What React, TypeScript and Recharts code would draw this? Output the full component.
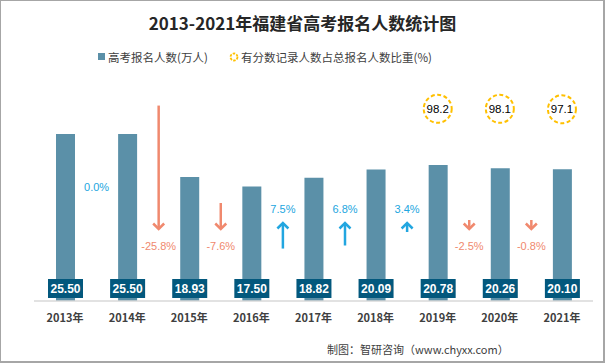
import React from 'react';
import { ComposedChart, Bar, Line, XAxis, YAxis, LabelList } from 'recharts';

// ---- data ----
const years = ['2013年', '2014年', '2015年', '2016年', '2017年', '2018年', '2019年', '2020年', '2021年'];
const applicants = [25.5, 25.5, 18.93, 17.5, 18.82, 20.09, 20.78, 20.26, 20.1];
const changePct: (number | null)[] = [null, 0.0, -25.8, -7.6, 7.5, 6.8, 3.4, -2.5, -0.8];
const scoreShare: (number | null)[] = [null, null, null, null, null, null, 98.2, 98.1, 97.1];

const seriesNames = ['高考报名人数(万人)', '有分数记录人数占总报名人数比重(%)'];
const titleText = '2013-2021年福建省高考报名人数统计图';
const footerText = '制图：智研咨询（www.chyxx.com）';

const data = years.map((y, i) => ({
  year: y,
  value: applicants[i],
  change: changePct[i],
  share: scoreShare[i],
}));

// ---- layout / style ----
const W = 605;
const H = 363;
const MARGIN = { top: 39, right: 12, left: 34, bottom: 32 };
const PLOT_W = W - MARGIN.left - MARGIN.right;
const BAND = PLOT_W / years.length;

const BAR = '#5B90A8';
const BOX = '#03587D';
const UP = '#22A6E0';
const DOWN = '#F0896E';
const YELLOW = '#FFC000';
const TEXT = '#404040';
const FONT = '"Noto Sans CJK SC", "Noto Sans", sans-serif';
const NUMFONT = '"Liberation Sans", "Noto Sans CJK SC", sans-serif';

const ValueBox = (p: any) => {
  const { x, y, width, height, value } = p;
  const cx = Number(x) + Number(width) / 2;
  const bottom = Number(y) + Number(height);
  return (
    <g>
      <rect x={cx - 17.5} y={bottom - 22} width={35} height={19} fill={BOX} />
      <text
        x={cx}
        y={bottom - 12.5}
        textAnchor="middle"
        dominantBaseline="central"
        fill="#fff"
        fontWeight="bold"
        fontSize={12}
        fontFamily={NUMFONT}
      >
        {Number(value).toFixed(2)}
      </text>
    </g>
  );
};

const arrowLen = (p: number) => Math.max(10, 2.14 * Math.pow(Math.abs(p), 1.25));

const ChangeMark = (p: any) => {
  const { x, y, width, height, index } = p;
  const c = changePct[index];
  if (c === null || c === undefined) return null;
  const cx = Number(x) + Number(width) / 2 - BAND / 2;
  const bottom = Number(y) + Number(height);
  const label = `${c.toFixed(1)}%`;
  if (c === 0) {
    return (
      <text x={cx} y={bottom - 114} textAnchor="middle" dominantBaseline="central" fill={UP} fontSize={11} fontFamily={NUMFONT}>
        {label}
      </text>
    );
  }
  const L = arrowLen(c);
  if (c > 0) {
    const tip = bottom - 79;
    return (
      <g>
        <text x={cx} y={bottom - 92} textAnchor="middle" dominantBaseline="central" fill={UP} fontSize={11} fontFamily={NUMFONT}>
          {label}
        </text>
        <line x1={cx} y1={tip + 1} x2={cx} y2={tip + L} stroke={UP} strokeWidth={2.5} />
        <path d={`M${cx - 5.5},${tip + 6.5} L${cx},${tip + 1} L${cx + 5.5},${tip + 6.5}`} fill="none" stroke={UP} strokeWidth={2.5} />
      </g>
    );
  }
  const end = bottom - 71;
  return (
    <g>
      <line x1={cx} y1={end - L} x2={cx} y2={end - 1} stroke={DOWN} strokeWidth={2.5} />
      <path d={`M${cx - 5.5},${end - 6.5} L${cx},${end - 1} L${cx + 5.5},${end - 6.5}`} fill="none" stroke={DOWN} strokeWidth={2.5} />
      <text x={cx} y={bottom - 55} textAnchor="middle" dominantBaseline="central" fill={DOWN} fontSize={11} fontFamily={NUMFONT}>
        {label}
      </text>
    </g>
  );
};

const ShareDot = (p: any) => {
  const { cx, cy, value, index } = p;
  if (value === null || value === undefined || cy === null || cy === undefined || isNaN(cy)) {
    return <g key={`sd-${index}`} />;
  }
  return (
    <g key={`sd-${index}`}>
      <circle cx={cx} cy={cy} r={14} fill="#fff" stroke={YELLOW} strokeWidth={2} strokeDasharray="4 2.5" />
      <text x={cx} y={cy} textAnchor="middle" dominantBaseline="central" fill="#000" fontSize={11.5} fontFamily={NUMFONT}>
        {Number(value).toFixed(1)}
      </text>
    </g>
  );
};

export default function App() {
  return (
    <div style={{ position: 'relative', width: W, height: H, background: '#fff', fontFamily: FONT, overflow: 'hidden' }}>
      <style>{'body{margin:0;}'}</style>
      <div
        style={{
          position: 'absolute',
          top: 10,
          left: 0,
          width: W,
          textAlign: 'center',
          fontSize: 17,
          lineHeight: '26px',
          fontWeight: 'bold',
          color: '#262626',
          fontFamily: FONT,
        }}
      >
        {titleText}
      </div>
      <div
        style={{
          position: 'absolute',
          top: 49,
          left: 0,
          width: W,
          height: 16,
          fontSize: 11.5,
          lineHeight: '16px',
          color: TEXT,
        }}
      >
        <div style={{ position: 'absolute', left: 98, top: 4, width: 7, height: 7, background: BAR }} />
        <div style={{ position: 'absolute', left: 108, top: 0, whiteSpace: 'nowrap' }}>{seriesNames[0]}</div>
        <svg style={{ position: 'absolute', left: 229, top: 3 }} width={10} height={10}>
          <circle cx={5} cy={5} r={3.5} fill="none" stroke={YELLOW} strokeWidth={1.8} strokeDasharray="2.5 1.2" />
        </svg>
        <div style={{ position: 'absolute', left: 241, top: 0, whiteSpace: 'nowrap' }}>{seriesNames[1]}</div>
      </div>
      <div style={{ position: 'absolute', top: 0, left: 0 }}>
        <ComposedChart width={W} height={H} data={data} margin={MARGIN}>
          <XAxis
            dataKey="year"
            height={30}
            axisLine={{ stroke: '#D9D9D9', strokeWidth: 1.5 }}
            tickLine={false}
            tickSize={6}
            tickMargin={7}
            interval={0}
            tick={{ fill: TEXT, fontSize: 11, fontWeight: 'bold', fontFamily: FONT }}
          />
          <YAxis yAxisId="l" hide domain={[0, 40]} />
          <YAxis yAxisId="r" hide orientation="right" domain={[-342, 258]} />
          <Bar yAxisId="l" dataKey="value" fill={BAR} barSize={19} isAnimationActive={false}>
            <LabelList dataKey="value" content={ValueBox} />
            <LabelList dataKey="change" content={ChangeMark} />
          </Bar>
          <Line
            yAxisId="r"
            dataKey="share"
            stroke="none"
            isAnimationActive={false}
            dot={ShareDot}
            activeDot={false}
            connectNulls={false}
          />
        </ComposedChart>
      </div>
      <div
        style={{
          position: 'absolute',
          top: 340,
          left: 327,
          fontSize: 11,
          lineHeight: '18px',
          color: TEXT,
          whiteSpace: 'nowrap',
        }}
      >
        {footerText}
      </div>
      <div
        style={{
          position: 'absolute',
          inset: 0,
          borderTop: '1px solid #A6A6A6',
          borderLeft: '1px solid #A6A6A6',
          borderRight: '2px solid #A6A6A6',
          borderBottom: '2px solid #A6A6A6',
          pointerEvents: 'none',
        }}
      />
    </div>
  );
}
